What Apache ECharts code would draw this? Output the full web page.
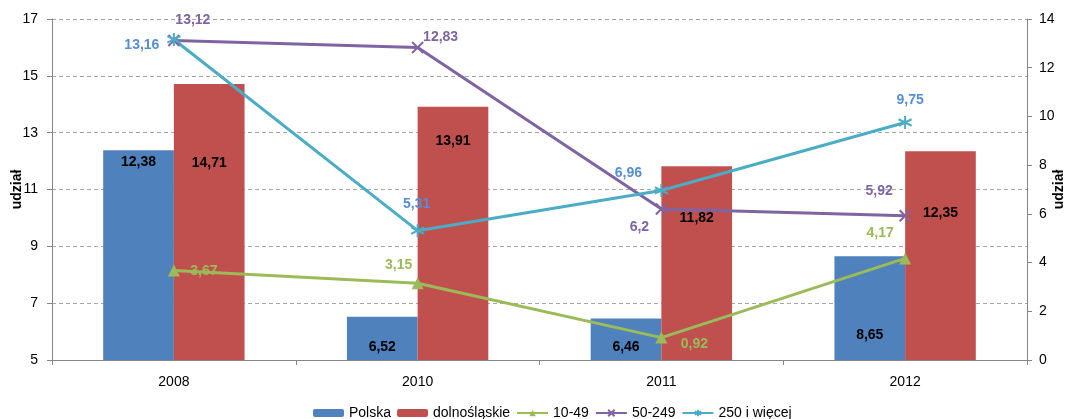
<!DOCTYPE html>
<html>
<head>
<meta charset="utf-8">
<script src="https://cdn.jsdelivr.net/npm/echarts@6/dist/echarts.min.js"></script>
<style>html,body{margin:0;padding:0;background:#fff}#c{width:1067px;height:419px}</style>
</head>
<body>
<div id="c"></div>
<script>
// ---- data ----
const categories = ['2008', '2010', '2011', '2012'];
const polska = [12.38, 6.52, 6.46, 8.65];
const dolnoslaskie = [14.71, 13.91, 11.82, 12.35];
const s10_49 = [3.67, 3.15, 0.92, 4.17];
const s50_249 = [13.12, 12.83, 6.2, 5.92];
const s250 = [13.16, 5.31, 6.96, 9.75];
const seriesNames = ['Polska', 'dolnośląskie', '10-49', '50-249', '250 i więcej'];
const leftTicks = { min: 5, max: 17, interval: 2 };
const rightTicks = { min: 0, max: 14, interval: 2 };

// ---- layout / style (label nudges in px) ----
const barLabelY = { polska: [12, 30, 29, 79], dolno: [79, 34, 52, 62] };
const lineLabelOff = {
  s10: [[30, 1], [-19, -18], [33, 7], [-25, -25]],
  s50: [[19, -20], [23, -10], [-22, 18], [-26, -25]],
  s250: [[-32, 6], [-1, -27], [-33, -17], [5, -22]]
};
const FONT = 'Liberation Sans';
const fmt = v => String(v).replace('.', ',');

function barData(vals, ys) {
  return vals.map((v, i) => ({
    value: v,
    label: { position: ['50%', ys[i]] }
  }));
}
function lineData(vals, offs) {
  return vals.map((v, i) => ({ value: v, label: { offset: offs[i] } }));
}
const barLabel = {
  show: true, align: 'center', verticalAlign: 'middle',
  color: '#000', fontWeight: 'bold', fontSize: 14, fontFamily: FONT,
  formatter: p => fmt(p.value)
};
function lineLabel(color) {
  return { show: true, position: 'inside', color: color, fontWeight: 'bold', fontSize: 14, fontFamily: FONT,
    formatter: p => fmt(p.value) };
}
const xPath = 'path://M0,0L10,10M10,0L0,10';
const starPath = 'path://M5,0L5,10M0.7,2.5L9.3,7.5M9.3,2.5L0.7,7.5';

const chart = echarts.init(document.getElementById('c'), null, { renderer: 'canvas' });
chart.setOption({
  animation: false,
  textStyle: { fontFamily: FONT },
  grid: { left: 52, right: 40, top: 19, bottom: 59, containLabel: false, outerBoundsMode: 'none' },
  legend: {
    top: 401, left: 308, itemWidth: 31, itemHeight: 8, itemGap: 6,
    textStyle: { fontSize: 14, color: '#000', fontFamily: FONT },
    data: seriesNames
  },
  xAxis: {
    type: 'category', data: categories,
    axisLine: { lineStyle: { color: '#868686' } },
    axisTick: { show: true, length: 5, lineStyle: { color: '#868686' } },
    axisLabel: { color: '#000', fontSize: 14, margin: 15 }
  },
  yAxis: [
    {
      type: 'value', min: leftTicks.min, max: leftTicks.max, interval: leftTicks.interval,
      name: 'udział', nameLocation: 'middle', nameGap: 28, nameRotate: 90, nameMoveOverlap: false,
      nameTextStyle: { fontWeight: 'bold', fontSize: 14, color: '#000' },
      axisLine: { show: true, lineStyle: { color: '#868686' } },
      axisTick: { show: true, length: 5, lineStyle: { color: '#868686' } },
      axisLabel: { color: '#000', fontSize: 14, margin: 14 },
      splitLine: { lineStyle: { color: '#a6a6a6', type: [4, 3] } }
    },
    {
      type: 'value', min: rightTicks.min, max: rightTicks.max, interval: rightTicks.interval,
      name: 'udział', nameLocation: 'middle', nameGap: 25, nameRotate: 90, nameMoveOverlap: false,
      nameTextStyle: { fontWeight: 'bold', fontSize: 14, color: '#000' },
      axisLine: { show: true, lineStyle: { color: '#868686' } },
      axisTick: { show: true, length: 5, lineStyle: { color: '#868686' } },
      axisLabel: { color: '#000', fontSize: 14, margin: 12 },
      splitLine: { show: false }
    }
  ],
  series: [
    { name: seriesNames[0], type: 'bar', yAxisIndex: 0, barGap: '0%', barCategoryGap: '42%',
      itemStyle: { color: '#4F81BD' }, label: barLabel, data: barData(polska, barLabelY.polska) },
    { name: seriesNames[1], type: 'bar', yAxisIndex: 0,
      itemStyle: { color: '#C0504D' }, label: barLabel, data: barData(dolnoslaskie, barLabelY.dolno) },
    { name: seriesNames[2], type: 'line', yAxisIndex: 1, symbol: 'triangle', symbolSize: 12,
      lineStyle: { color: '#9BBB59', width: 3 }, itemStyle: { color: '#9BBB59' },
      label: lineLabel('#9BBB59'), data: lineData(s10_49, lineLabelOff.s10), z: 3 },
    { name: seriesNames[3], type: 'line', yAxisIndex: 1, symbol: xPath, symbolSize: 11,
      lineStyle: { color: '#8064A2', width: 3 }, itemStyle: { color: 'none', borderColor: '#8064A2', borderWidth: 2 },
      label: lineLabel('#8064A2'), data: lineData(s50_249, lineLabelOff.s50), z: 3 },
    { name: seriesNames[4], type: 'line', yAxisIndex: 1, symbol: starPath, symbolSize: 13,
      lineStyle: { color: '#4BACC6', width: 3 }, itemStyle: { color: 'none', borderColor: '#4BACC6', borderWidth: 2 },
      label: lineLabel('#558ED5'), data: lineData(s250, lineLabelOff.s250), z: 3 }
  ]
});
</script>
</body>
</html>
